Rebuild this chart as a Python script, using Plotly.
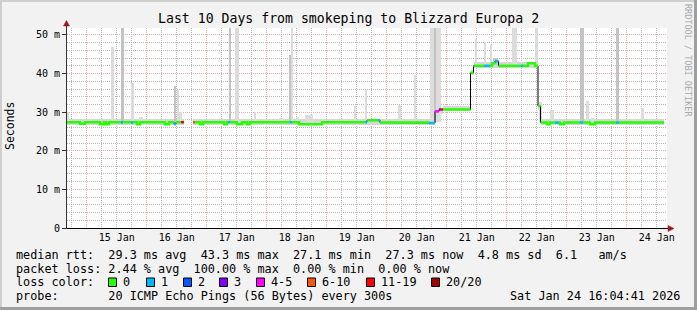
import plotly.graph_objects as go
import pandas as pd

# ---------------- data ----------------
T_START = "2026-01-14 16:04:41"
T_END = "2026-01-24 16:04:41"

# median rtt, as a step function: segment start, value (ms), loss bucket index
med_start = [
    "2026-01-14 16:05", "2026-01-14 21:17", "2026-01-14 23:17", "2026-01-15 05:17",
    "2026-01-15 06:53", "2026-01-15 07:41", "2026-01-15 08:53", "2026-01-15 13:41",
    "2026-01-15 14:29", "2026-01-15 17:41", "2026-01-15 18:29", "2026-01-15 20:05",
    "2026-01-15 21:17", "2026-01-16 07:17", "2026-01-16 08:53", "2026-01-16 10:53",
    "2026-01-16 11:41", "2026-01-16 13:41", "2026-01-16 14:53", "2026-01-16 18:29",
    "2026-01-16 19:17", "2026-01-16 21:17", "2026-01-16 22:29", "2026-01-17 06:53",
    "2026-01-17 08:05", "2026-01-17 08:29", "2026-01-17 09:17", "2026-01-17 12:05",
    "2026-01-17 14:05", "2026-01-17 16:05", "2026-01-17 17:17", "2026-01-18 09:17",
    "2026-01-18 10:05", "2026-01-18 12:53", "2026-01-18 22:05", "2026-01-19 15:17",
    "2026-01-19 16:05", "2026-01-19 20:29", "2026-01-19 21:17", "2026-01-20 16:53",
    "2026-01-20 19:17", "2026-01-20 20:53", "2026-01-20 21:41", "2026-01-20 22:29",
    "2026-01-21 09:29", "2026-01-21 10:41", "2026-01-21 14:53", "2026-01-21 17:17",
    "2026-01-21 18:05", "2026-01-21 19:17", "2026-01-21 20:41", "2026-01-22 05:41",
    "2026-01-22 06:29", "2026-01-22 08:29", "2026-01-22 11:17", "2026-01-22 12:29",
    "2026-01-22 13:29", "2026-01-22 16:05", "2026-01-22 17:17", "2026-01-22 19:17",
    "2026-01-22 20:53", "2026-01-22 21:17", "2026-01-22 22:53", "2026-01-23 05:17",
    "2026-01-23 06:29", "2026-01-23 09:17", "2026-01-23 11:17", "2026-01-23 19:41",
    "2026-01-23 20:53",
]
med_ms = [
    27.4, 27.0, 27.4, 26.9, 27.4, 26.9, 27.4, 27.3,
    27.4, 27.3, 27.4, 26.9, 27.4, 26.9, 27.4, 26.9,
    27.4, 27.4, None, 27.4, 27.4, 26.9, 27.4, 26.9,
    27.4, 27.4, 27.4, 26.9, 27.4, 26.9, 27.4, 27.4,
    27.4, 26.9, 27.4, 27.4, 27.9, 27.9, 27.3, 27.2,
    30.2, 30.7, 30.7, 30.7, 40.2, 42.0, 42.0, 42.0,
    42.7, 43.2, 42.0, 42.0, 42.0, 42.7, 42.0, 31.6,
    27.3, 26.9, 27.3, 27.3, 27.3, 26.9, 27.3, 27.3,
    27.3, 26.9, 27.3, 27.3, 27.3,
]
med_loss = [
    0, 0, 0, 0, 0, 0, 0, 1,
    0, 1, 0, 0, 0, 0, 0, 1,
    0, 6, 7, 5, 0, 0, 0, 0,
    0, 1, 0, 0, 0, 0, 0, 1,
    0, 0, 0, 1, 0, 1, 0, 1,
    4, 3, 6, 0, 0, 0, 1, 0,
    0, 1, 0, 1, 0, 0, 0, 0,
    0, 0, 0, 1, 0, 0, 0, 1,
    0, 0, 0, 1, 0,
]
MED_END = "2026-01-24 14:53"

# smoke: the steady band of ping spread
band_start = ["2026-01-14 16:05", "2026-01-16 18:29", "2026-01-20 19:17", "2026-01-20 22:29",
              "2026-01-21 09:29", "2026-01-21 10:41", "2026-01-22 12:29", "2026-01-22 13:29"]
band_end = ["2026-01-16 14:53", "2026-01-20 19:17", "2026-01-20 22:29", "2026-01-21 09:29",
            "2026-01-21 10:41", "2026-01-22 12:29", "2026-01-22 13:29", "2026-01-24 14:53"]
band_lo = [26.6, 26.6, 29.6, 30.2, 39.5, 41.5, 30.6, 26.6]
band_hi = [28.2, 28.3, 31.2, 31.7, 41.0, 43.0, 32.4, 28.2]

# smoke spikes (slowest pings)
spike_start = [
    "2026-01-14 16:05", "2026-01-15 09:41", "2026-01-15 13:41", "2026-01-15 17:41",
    "2026-01-15 20:53", "2026-01-16 10:53", "2026-01-16 12:05", "2026-01-16 12:53",
    "2026-01-17 08:41", "2026-01-17 11:17", "2026-01-17 18:53", "2026-01-18 04:53",
    "2026-01-18 09:05", "2026-01-18 09:41", "2026-01-18 11:41", "2026-01-18 15:17",
    "2026-01-19 10:53", "2026-01-19 15:17", "2026-01-20 04:29", "2026-01-20 10:53",
    "2026-01-20 17:17", "2026-01-20 18:53", "2026-01-20 19:41", "2026-01-21 11:05",
    "2026-01-21 14:53", "2026-01-21 17:17", "2026-01-21 18:29", "2026-01-22 02:05",
    "2026-01-22 11:17", "2026-01-22 12:53", "2026-01-22 17:17", "2026-01-23 05:17",
    "2026-01-23 07:41", "2026-01-23 09:41", "2026-01-23 19:41", "2026-01-24 02:53",
    "2026-01-24 05:41",
]
spike_end = [
    "2026-01-14 16:53", "2026-01-15 10:53", "2026-01-15 14:53", "2026-01-15 18:53",
    "2026-01-15 22:29", "2026-01-16 11:41", "2026-01-16 12:53", "2026-01-16 14:05",
    "2026-01-17 09:29", "2026-01-17 12:53", "2026-01-17 19:41", "2026-01-18 06:29",
    "2026-01-18 09:41", "2026-01-18 10:29", "2026-01-18 12:53", "2026-01-18 18:29",
    "2026-01-19 11:41", "2026-01-19 16:05", "2026-01-20 05:41", "2026-01-20 11:41",
    "2026-01-20 18:53", "2026-01-20 19:41", "2026-01-20 21:41", "2026-01-21 12:05",
    "2026-01-21 15:41", "2026-01-21 18:05", "2026-01-21 20:29", "2026-01-22 04:05",
    "2026-01-22 12:29", "2026-01-22 14:05", "2026-01-22 18:53", "2026-01-23 06:53",
    "2026-01-23 08:53", "2026-01-23 10:53", "2026-01-23 20:53", "2026-01-24 03:41",
    "2026-01-24 06:53",
]
spike_top = [30.0, 47.0, 53.0, 37.6, 28.8, 36.9, 35.8, 30.0, 53.0, 53.0, 30.0, 28.6,
             44.8, 53.0, 28.8, 29.2, 31.6, 35.8, 31.9, 39.6, 53.0, 53.0, 53.0, 49.0,
             48.3, 47.4, 44.0, 53.0, 53.0, 32.7, 30.6, 53.0, 32.9, 28.4, 53.0, 28.3, 31.2]
spike_base = ([27.4] * 23 + [42.2, 42.2, 42.2, 42.2, 42.2, 42.2] + [27.4] * 8)
spike_dark = [0, 0, 1, 0, 0, 1, 0, 0, 1, 0, 0, 0, 1, 0, 0, 0, 0, 0, 0, 0, 0, 1, 0, 0,
              0, 0, 1, 0, 0, 0, 0, 1, 0, 0, 1, 0, 0]

loss_labels = ["0", "1", "2", "3", "4-5", "6-10", "11-19", "20/20"]
loss_colors = ["#26ff00", "#00b8ff", "#0059ff", "#7e00ff", "#ff00ff", "#ff5500", "#ff0000", "#a10000"]

y_ticks = [0, 10, 20, 30, 40, 50]
y_labels = ["0", "10 m", "20 m", "30 m", "40 m", "50 m"]

rtt_avg, rtt_max, rtt_min, rtt_now, rtt_sd, rtt_ams = 29.3, 43.3, 27.1, 27.3, 4.8, 6.1
loss_avg, loss_max, loss_min, loss_now = 2.44, 100.00, 0.00, 0.00
TITLE = "Last 10 Days from smokeping to Blizzard Europa 2"
PROBE = "20 ICMP Echo Pings (56 Bytes) every 300s"
STAMP = "Sat Jan 24 16:04:41 2026"

# ---------------- style ----------------
W, H = 697, 310
MONO = "DejaVu Sans Mono"
BG = "#f2f2f2"
MGRID = "#f0aaaa"
GRID = "#b8b8b8"
SMOKE_BAND = "#d6d6d6"
SMOKE_LIGHT = "#dcdcdc"
SMOKE_DARK = "#c3c3c3"
ARROW = "#9c1a1a"
AXIS = "#303030"
JUMP = 1.0  # colour line is broken at larger steps, black line shows them


def px(x):
    return x / W


def py(y):
    return 1 - y / H


def nb(s):
    return s.replace(" ", "\u00a0")


fig = go.Figure()

# smoke band
bs = pd.to_datetime(band_start)
be = pd.to_datetime(band_end)
fig.add_trace(go.Bar(
    x=bs, y=[h - l for h, l in zip(band_hi, band_lo)], base=band_lo,
    width=[(e - s).total_seconds() * 1000 for s, e in zip(bs, be)], offset=0,
    marker=dict(color=SMOKE_BAND, line=dict(width=0)), hoverinfo="skip"))

# smoke spikes
ss = pd.to_datetime(spike_start)
se = pd.to_datetime(spike_end)
for dark in (0, 1):
    idx = [i for i, d in enumerate(spike_dark) if d == dark]
    fig.add_trace(go.Bar(
        x=[ss[i] for i in idx],
        y=[spike_top[i] - spike_base[i] for i in idx],
        base=[spike_base[i] for i in idx],
        width=[(se[i] - ss[i]).total_seconds() * 1000 for i in idx], offset=0,
        marker=dict(color=SMOKE_DARK if dark else SMOKE_LIGHT, line=dict(width=0)),
        hoverinfo="skip"))

# median: thin black line
med_end = med_start[1:] + [MED_END]
bx, by = [], []
for s, e, v in zip(med_start, med_end, med_ms):
    if v is None:
        bx.append(None)
        by.append(None)
        continue
    bx += [s, e]
    by += [v, v]
fig.add_trace(go.Scatter(x=bx, y=by, mode="lines", line=dict(color="black", width=1),
                         hoverinfo="skip"))

# median coloured by loss
for b, col in enumerate(loss_colors):
    xs, ys = [], []
    last_v = None
    for s, e, v, l in zip(med_start, med_end, med_ms, med_loss):
        if v is not None and l == b:
            if last_v is not None and abs(v - last_v) > JUMP:
                xs.append(None)
                ys.append(None)
            xs += [s, e]
            ys += [v, v]
            last_v = v
        elif last_v is not None:
            xs.append(None)
            ys.append(None)
            last_v = None
    if xs:
        fig.add_trace(go.Scatter(x=xs, y=ys, mode="lines", line=dict(color=col, width=2.5),
                                 hoverinfo="skip"))

# ---------------- layout ----------------
X0, X1, Y0, Y1 = 67, 667, 28, 228
fig.update_layout(
    width=W, height=H, margin=dict(l=0, r=0, t=0, b=0, pad=0, autoexpand=False),
    paper_bgcolor=BG, plot_bgcolor="white", showlegend=False,
    barmode="overlay", bargap=0,
    font=dict(family=MONO, size=10, color="black"),
    xaxis=dict(
        type="date", range=[T_START, T_END], domain=[px(X0), px(X1)], automargin=False,
        tick0="2026-01-15", dtick=86400000, ticklabelmode="period", tickformat="%d %b",
        showgrid=True, gridcolor=MGRID, griddash="1px,1px", gridwidth=1,
        minor=dict(dtick=21600000, tick0="2026-01-15", showgrid=True, gridcolor=GRID,
                   griddash="1px,1px", gridwidth=1),
        ticks="", showline=False, zeroline=False, tickfont=dict(family=MONO, size=10),
        ticklabelstandoff=2, fixedrange=True),
    yaxis=dict(
        range=[0, 51.8], domain=[py(Y1), py(Y0)], automargin=False,
        tickmode="array", tickvals=y_ticks, ticktext=y_labels,
        showgrid=True, gridcolor=MGRID, griddash="1px,1px", gridwidth=1,
        minor=dict(dtick=2, showgrid=True, gridcolor=GRID, griddash="1px,1px", gridwidth=1),
        ticks="outside", ticklen=4, tickcolor=AXIS, zeroline=False, showline=False,
        tickfont=dict(family=MONO, size=10), fixedrange=True),
)

shapes = []
# frame bevel
shapes.append(dict(type="rect", xref="paper", yref="paper", x0=0, x1=px(W), y0=py(2), y1=py(0),
                   fillcolor="#cfcfcf", line=dict(width=0)))
shapes.append(dict(type="rect", xref="paper", yref="paper", x0=0, x1=px(2), y0=py(H), y1=py(0),
                   fillcolor="#cfcfcf", line=dict(width=0)))
shapes.append(dict(type="rect", xref="paper", yref="paper", x0=0, x1=px(W), y0=py(H), y1=py(H - 3),
                   fillcolor="#9e9e9e", line=dict(width=0)))
shapes.append(dict(type="rect", xref="paper", yref="paper", x0=px(W - 3), x1=px(W), y0=py(H), y1=py(0),
                   fillcolor="#9e9e9e", line=dict(width=0)))
# axes
shapes.append(dict(type="line", xref="paper", yref="paper", x0=px(X0), x1=px(669), y0=py(Y1 + 0.5),
                   y1=py(Y1 + 0.5), line=dict(color="black", width=1)))
shapes.append(dict(type="line", xref="paper", yref="paper", x0=px(X0 - 0.5), x1=px(X0 - 0.5),
                   y0=py(Y1 + 1), y1=py(25), line=dict(color=AXIS, width=1)))
# arrows
shapes.append(dict(type="path", xref="paper", yref="paper",
                   path=f"M {px(668)} {py(Y1 - 2.5)} L {px(674)} {py(Y1 + 0.5)} L {px(668)} {py(Y1 + 3.5)} Z",
                   fillcolor=ARROW, line=dict(color=ARROW, width=0.5)))
shapes.append(dict(type="path", xref="paper", yref="paper",
                   path=f"M {px(X0 - 3.5)} {py(26)} L {px(X0 - 0.5)} {py(20.5)} L {px(X0 + 2.5)} {py(26)} Z",
                   fillcolor=ARROW, line=dict(color=ARROW, width=0.5)))

annotations = []


def ann(text, x, y, size=11.8, xanchor="left", color="black", angle=0):
    annotations.append(dict(text=nb(text), x=px(x), y=py(y), xref="paper", yref="paper",
                            xanchor=xanchor, yanchor="middle", showarrow=False, textangle=angle,
                            font=dict(family=MONO, size=size, color=color)))


ann(TITLE, 348, 18.5, size=13.2, xanchor="center")
ann("Seconds", 10, 126, size=11.5, xanchor="center", angle=-90)
ann("RRDTOOL / TOBI OETIKER", 688, 60, size=8.5, xanchor="center", color="#a9a9a9", angle=90)

LX = 14
row1 = (f"median rtt:  {rtt_avg:.1f} ms avg  {rtt_max:.1f} ms max  {rtt_min:.1f} ms min  "
        f"{rtt_now:.1f} ms now  {rtt_sd:.1f} ms sd  {rtt_ams:.1f}   am/s")
row2 = (f"packet loss: {loss_avg:.2f} % avg  {loss_max:.2f} % max  {loss_min:.2f} % min  "
        f"{loss_now:.2f} % now")
ann(row1, LX, 255)
ann(row2, LX, 268.5)
ann("loss color:", LX, 282)
box_x = [108, 146, 183, 219, 256, 307, 366, 431]
for bx0, lab, col in zip(box_x, loss_labels, loss_colors):
    shapes.append(dict(type="rect", xref="paper", yref="paper", x0=px(bx0 + 0.5), x1=px(bx0 + 8.5),
                       y0=py(286.5), y1=py(278), fillcolor=col, line=dict(color="black", width=1)))
    ann(lab, bx0 + 13, 282)
ann("probe:       " + PROBE, LX, 295.5)
ann(STAMP, 682, 295.5, xanchor="right")

fig.update_layout(shapes=shapes, annotations=annotations)
fig.write_html("out.html")
